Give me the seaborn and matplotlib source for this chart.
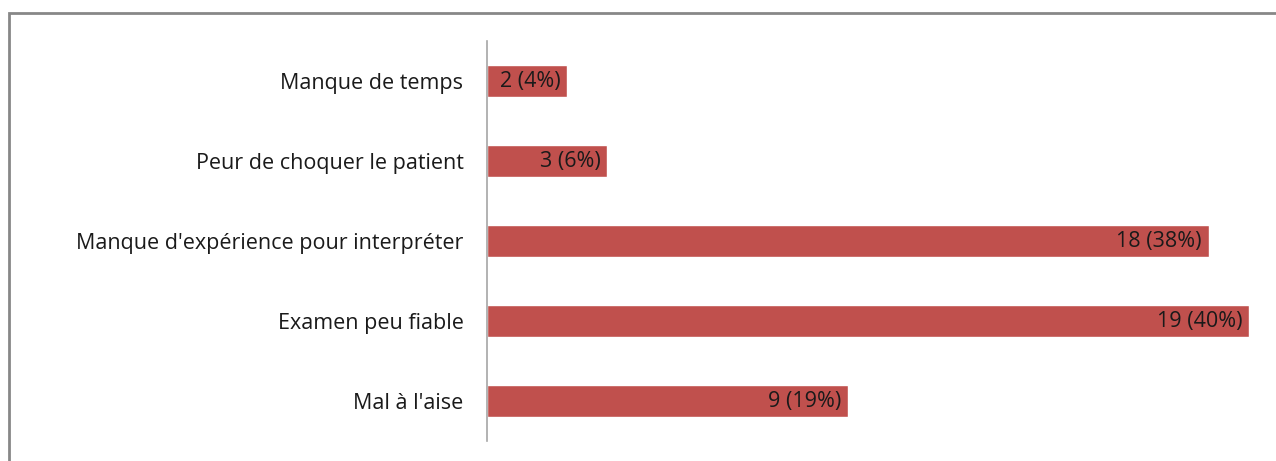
import matplotlib
matplotlib.use("Agg")
import matplotlib.pyplot as plt
import matplotlib.patches as mpatches
import seaborn as sns
import pandas as pd

categories = [
    "Manque de temps",
    "Peur de choquer le patient",
    "Manque d'expérience pour interpréter",
    "Examen peu fiable",
    "Mal à l'aise",
]
counts = [2, 3, 18, 19, 9]
percents = [4, 6, 38, 40, 19]

df = pd.DataFrame({"cause": categories, "n": counts})

sns.set_theme(style="white")
plt.rcParams["font.family"] = ["Open Sans", "DejaVu Sans"]

fig = plt.figure(figsize=(12.76, 4.61), dpi=100)
ax = fig.add_axes([487 / 1276, 1 - 441 / 461, (1265 - 487) / 1276, 400 / 461])

sns.barplot(data=df, y="cause", x="n", orient="h", color="#C0504D",
            saturation=1, width=0.4, ax=ax)

ax.set_xlim(0, (1265 - 487) / ((1249 - 487) / 19))
ax.set_ylim(4.5, -0.5)
ax.set_xlabel("")
ax.set_ylabel("")
ax.set_xticks([])
for side in ("top", "right", "bottom"):
    ax.spines[side].set_visible(False)
ax.spines["left"].set_color("#A6A6A6")
ax.spines["left"].set_linewidth(1.2)
ax.tick_params(axis="y", length=0, pad=17, labelsize=15.5, labelcolor="#1a1a1a")

labels = [f"{c} ({p}%)" for c, p in zip(counts, percents)]
ax.bar_label(ax.containers[0], labels=labels, padding=-5, fontsize=15.5,
             color="#1a1a1a")
for t in ax.texts:
    t.set_ha("right")

# Outer chart frame
frame = mpatches.Rectangle((9 / 1276, -0.1), 1.2, 0.1 + 1 - 13 / 461,
                           transform=fig.transFigure, fill=False,
                           edgecolor="#878787", linewidth=2, clip_on=False)
fig.patches.append(frame)

fig.savefig("out.png", dpi=100)
